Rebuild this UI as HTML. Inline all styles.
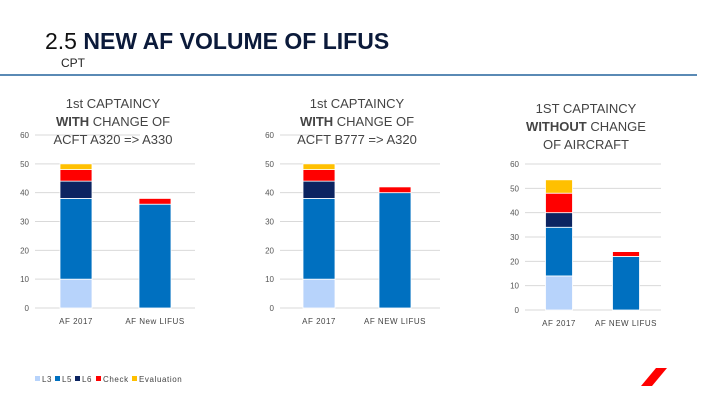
<!DOCTYPE html>
<html><head><meta charset="utf-8"><style>
body{margin:0;width:720px;height:405px;background:#fff;overflow:hidden;font-family:"Liberation Sans",sans-serif}
svg{position:absolute;left:0;top:0}
</style></head><body>
<svg id="s" width="720" height="405" xmlns="http://www.w3.org/2000/svg">
<text x="45" y="49" font-size="23" fill="#111">2.5 <tspan font-weight="bold" fill="#0b1a3a">NEW AF VOLUME OF LIFUS</tspan></text>
<text x="61" y="67" font-size="12" fill="#222">CPT</text>
<line x1="0" y1="75" x2="697" y2="75" stroke="#5a8ab5" stroke-width="2"/>
<polygon points="641,386 652,386 667,368 656,368" fill="#ff0000"/>
<g id="legend" font-size="8" fill="#444"></g>
</svg>
<script>
const categories1 = ["AF 2017","AF New LIFUS"];
const categories2 = ["AF 2017","AF NEW LIFUS"];
const categories3 = ["AF 2017","AF NEW LIFUS"];
const seriesNames = ["L3","L5","L6","Check","Evaluation"];
const colors = ["#b7d3fb","#0070c0","#0c2461","#ff0000","#ffc000"];
const chart1L3 = [10,0], chart1L5 = [28,36], chart1L6 = [6,0], chart1Check = [4,2], chart1Eval = [2,0];
const chart2L3 = [10,0], chart2L5 = [28,40], chart2L6 = [6,0], chart2Check = [4,2], chart2Eval = [2,0];
const chart3L3 = [14,0], chart3L5 = [20,22], chart3L6 = [6,0], chart3Check = [8,2], chart3Eval = [5.5,0];
const ticks1 = [0,10,20,30,40,50,60], ticks3 = [0,10,20,30,40,50,60];
const titles = [["1st CAPTAINCY","WITH|CHANGE OF","ACFT A320 => A330"],["1st CAPTAINCY","WITH|CHANGE OF","ACFT B777 => A320"],["1ST CAPTAINCY","WITHOUT|CHANGE","OF AIRCRAFT"]];
const NS="http://www.w3.org/2000/svg", svg=document.getElementById('s');
function mk(t,a,p){const e=document.createElementNS(NS,t);for(const k in a)e.setAttribute(k,a[k]);(p||svg).appendChild(e);return e;}
function chart(idx,cfg,cats,series,ticks){
  const g=mk('g',{});
  
  
  const y=v=>cfg.y0-(v/60)*(cfg.y0-cfg.y60);
  ticks.forEach(t=>{
    const l=mk('line',{x1:cfg.gx0,x2:t==60&&cfg.short?cfg.short:cfg.gx1,y1:y(t),y2:y(t),stroke:'#d9d9d9','stroke-width':1},g);
    
    
    const tx=mk('text',{x:cfg.gx0-6,y:y(t)+3,'font-size':8,'text-anchor':'end',fill:'#555'},g);
    tx.textContent=t;
    
    
  });
  cats.forEach((c,i)=>{
    const cx=cfg.cx[i];let acc=0;
    series.forEach((s,k)=>{
      const v=s[i];if(!v)return;
      const r=mk('rect',{x:cx-cfg.bw/2,width:cfg.bw,y:y(acc+v),height:y(acc)-y(acc+v),fill:colors[k],stroke:'#fff','stroke-width':0.8},g);
      
      
      acc+=v;
    });
    const t=mk('text',{x:cx,y:cfg.y0+16,'font-size':8,'text-anchor':'middle',fill:'#444','letter-spacing':0.5},g);
    t.textContent=c;
    
    
  });
  titles[idx].forEach((ln,j)=>{
    const t=mk('text',{x:cfg.tx,y:cfg.ty+j*18,'font-size':13,'text-anchor':'middle',fill:'#444'},g);
    
    
    if(ln.includes('|')){const p=ln.split('|');const b=mk('tspan',{'font-weight':'bold'},t);b.textContent=p[0];const r=mk('tspan',{},t);r.textContent=' '+p[1];}
    else t.textContent=ln;
  });
}
chart(0,{y0:308,y60:135,gx0:35,gx1:195,short:140,cx:[76,155],bw:32,tx:113,ty:108},categories1,[chart1L3,chart1L5,chart1L6,chart1Check,chart1Eval],ticks1);
chart(1,{y0:308,y60:135,gx0:280,gx1:440,short:315,cx:[319,395],bw:32,tx:357,ty:108},categories2,[chart2L3,chart2L5,chart2L6,chart2Check,chart2Eval],ticks1);
chart(2,{y0:310,y60:164,gx0:525,gx1:661,cx:[559,626],bw:27,tx:586,ty:113},categories3,[chart3L3,chart3L5,chart3L6,chart3Check,chart3Eval],ticks3);
const lg=document.getElementById('legend');let lx=35;
const legendStep=[20,20,21,36,0];
seriesNames.forEach((n,k)=>{
  const r=mk('rect',{x:lx,y:376,width:5,height:5,fill:colors[k]},lg);
  
  
  const t=mk('text',{x:lx+7,y:382,'letter-spacing':0.6},lg);t.textContent=n;
  
  
  lx+=legendStep[k];
});
</script>
</body></html>
